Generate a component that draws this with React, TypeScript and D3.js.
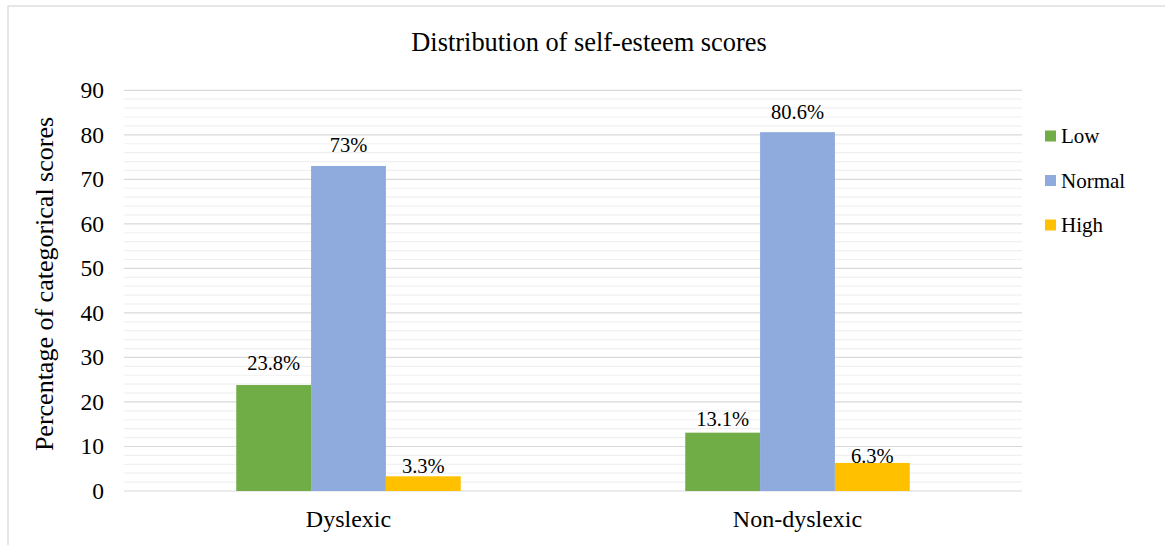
import React from "react";
import * as d3 from "d3";

// Self-esteem category shares (%) by reader group
const groups = ["Dyslexic", "Non-dyslexic"];
const levels = ["Low", "Normal", "High"];
const lowValues = [23.8, 13.1];
const normalValues = [73, 80.6];
const highValues = [3.3, 6.3];
const valueLabels = [
  ["23.8%", "73%", "3.3%"],
  ["13.1%", "80.6%", "6.3%"],
];
const yTicks = [0, 10, 20, 30, 40, 50, 60, 70, 80, 90];

const colors = ["#70ad47", "#8faadc", "#ffc000"];
// distance from bar top to label baseline, per group and level
const labelGap = [
  [15, 14, 3],
  [7, 13, 0],
];

const W = 1165;
const H = 545;
const plot = { left: 124, right: 1022, top: 90.3, bottom: 491 };
const FONT = '"Liberation Serif", "Times New Roman", Times, "DejaVu Serif", serif';

export default function App() {
  const series = [lowValues, normalValues, highValues];
  const x0 = d3.scaleBand<string>().domain(groups).range([plot.left, plot.right]).paddingInner(0).paddingOuter(0);
  const groupW = x0.bandwidth();
  const barW = groupW / 6; // wide gap between the two groups
  const x1 = d3
    .scaleBand<string>()
    .domain(levels)
    .range([groupW / 2 - 1.5 * barW, groupW / 2 + 1.5 * barW])
    .padding(0);
  const y = d3.scaleLinear().domain([0, 90]).range([plot.bottom, plot.top]);
  const minorTicks = d3.range(0, 91, 2).filter((v) => v % 10 !== 0);

  return (
    <svg
      width={W}
      height={H}
      style={{ position: "absolute", left: 0, top: 0, background: "#fff", fontFamily: FONT }}
    >
      <rect x={0} y={0} width={W} height={H} fill="#fff" />
      {/* chart frame */}
      <rect x={8} y={6} width={W + 10} height={H + 10} fill="none" stroke="#d9d9d9" strokeWidth={1.3} />

      <text x={589} y={51} textAnchor="middle" fontSize={26.4} fill="#000" style={{ fontFamily: FONT }}>
        Distribution of self-esteem scores
      </text>

      {/* gridlines */}
      {minorTicks.map((v) => (
        <line key={"m" + v} x1={plot.left} x2={plot.right} y1={y(v)} y2={y(v)} stroke="#f0f0f0" strokeWidth={1.2} />
      ))}
      {yTicks.map((v) => (
        <line key={"g" + v} x1={plot.left} x2={plot.right} y1={y(v)} y2={y(v)} stroke="#d9d9d9" strokeWidth={1.2} />
      ))}

      {/* y tick labels */}
      {yTicks.map((v) => (
        <text key={"t" + v} x={104} y={y(v)} dy="0.34em" textAnchor="end" fontSize={23.5} fill="#000" style={{ fontFamily: FONT }}>
          {v}
        </text>
      ))}

      <text
        transform={`translate(53,284) rotate(-90)`}
        textAnchor="middle"
        fontSize={26}
        fill="#000"
        style={{ fontFamily: FONT }}
      >
        Percentage of categorical scores
      </text>

      {/* bars */}
      {groups.map((g, gi) => (
        <g key={g} transform={`translate(${x0(g)},0)`}>
          {levels.map((lv, li) => {
            const v = series[li][gi];
            const bx = x1(lv)!;
            return (
              <g key={lv}>
                <rect x={bx} y={y(v)} width={x1.bandwidth()} height={y(0) - y(v)} fill={colors[li]} />
                <text
                  x={bx + x1.bandwidth() / 2}
                  y={y(v) - labelGap[gi][li]}
                  textAnchor="middle"
                  fontSize={20.5}
                  fill="#000"
                  style={{ fontFamily: FONT }}
                >
                  {valueLabels[gi][li]}
                </text>
              </g>
            );
          })}
          <text x={groupW / 2} y={527} textAnchor="middle" fontSize={24} fill="#000" style={{ fontFamily: FONT }}>
            {g}
          </text>
        </g>
      ))}

      {/* legend */}
      {levels.map((lv, li) => (
        <g key={lv} transform={`translate(1045,${136 + li * 44.5})`}>
          <rect x={0} y={-5.5} width={11} height={11} fill={colors[li]} />
          <text x={16} y={0} dy="0.34em" fontSize={21} fill="#000" style={{ fontFamily: FONT }}>
            {lv}
          </text>
        </g>
      ))}
    </svg>
  );
}
